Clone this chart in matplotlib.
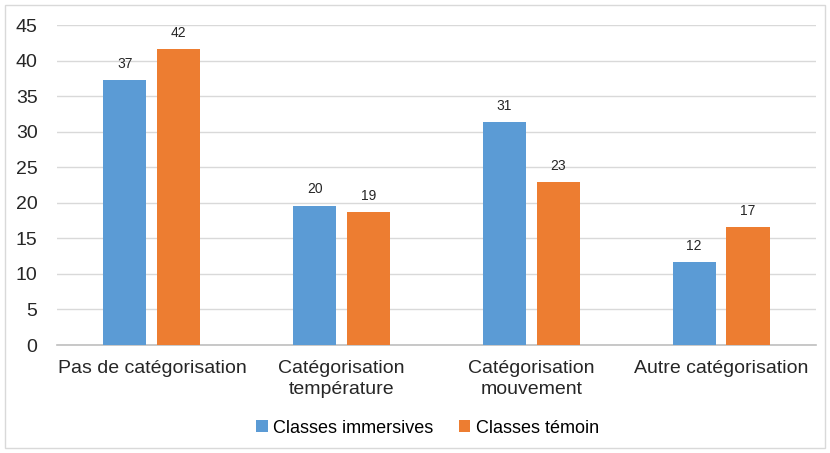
import matplotlib.pyplot as plt
import numpy as np

categories = ['Pas de catégorisation', 'Catégorisation\ntempérature',
              'Catégorisation\nmouvement', 'Autre catégorisation']
immersives = [37.2, 19.6, 31.3, 11.7]
temoin = [41.6, 18.7, 22.9, 16.6]
series_names = ['Classes immersives', 'Classes témoin']

plt.rcParams['font.family'] = ['Liberation Sans', 'DejaVu Sans']

fig = plt.figure(figsize=(8.3, 4.53), dpi=100)
ax = fig.add_axes([0.0687, 0.2384, 0.9143, 0.7064])

# light frame around the whole chart
fig.patches.append(plt.Rectangle((0.006, 0.011), 0.988, 0.978, transform=fig.transFigure,
                                 fill=False, edgecolor='#d9d9d9', linewidth=1))

x = np.arange(len(categories))
w = 0.227
off = 0.142
b1 = ax.bar(x - off, immersives, w, color='#5B9BD5', label=series_names[0], zorder=3)
b2 = ax.bar(x + off, temoin, w, color='#ED7D31', label=series_names[1], zorder=3)

for bars, vals in [(b1, immersives), (b2, temoin)]:
    for b, v in zip(bars, vals):
        ax.text(b.get_x() + b.get_width() / 2, v + 1.3, '%d' % round(v),
                ha='center', va='bottom', fontsize=10, color='#262626')

ax.set_xlim(-0.5, 3.5)
ax.set_ylim(0, 45)
ax.set_yticks(range(0, 46, 5))
ax.set_xticks(x)
ax.set_xticklabels(categories, fontsize=14, color='#262626', linespacing=1.3)
ax.tick_params(axis='y', labelsize=14, labelcolor='#262626', length=0, pad=14)
ax.tick_params(axis='x', length=0, pad=11)
ax.grid(axis='y', color='#d9d9d9', linewidth=1, zorder=0)
for s in ['top', 'right', 'left']:
    ax.spines[s].set_visible(False)
ax.spines['bottom'].set_color('#bfbfbf')
ax.spines['bottom'].set_linewidth(1.2)

fig.legend(loc='center', bbox_to_anchor=(0.515, 0.055), ncol=2, frameon=False,
           fontsize=13, handlelength=0.65, handleheight=0.65, handletextpad=0.3,
           columnspacing=1.4)

fig.savefig('out.png', dpi=100)
